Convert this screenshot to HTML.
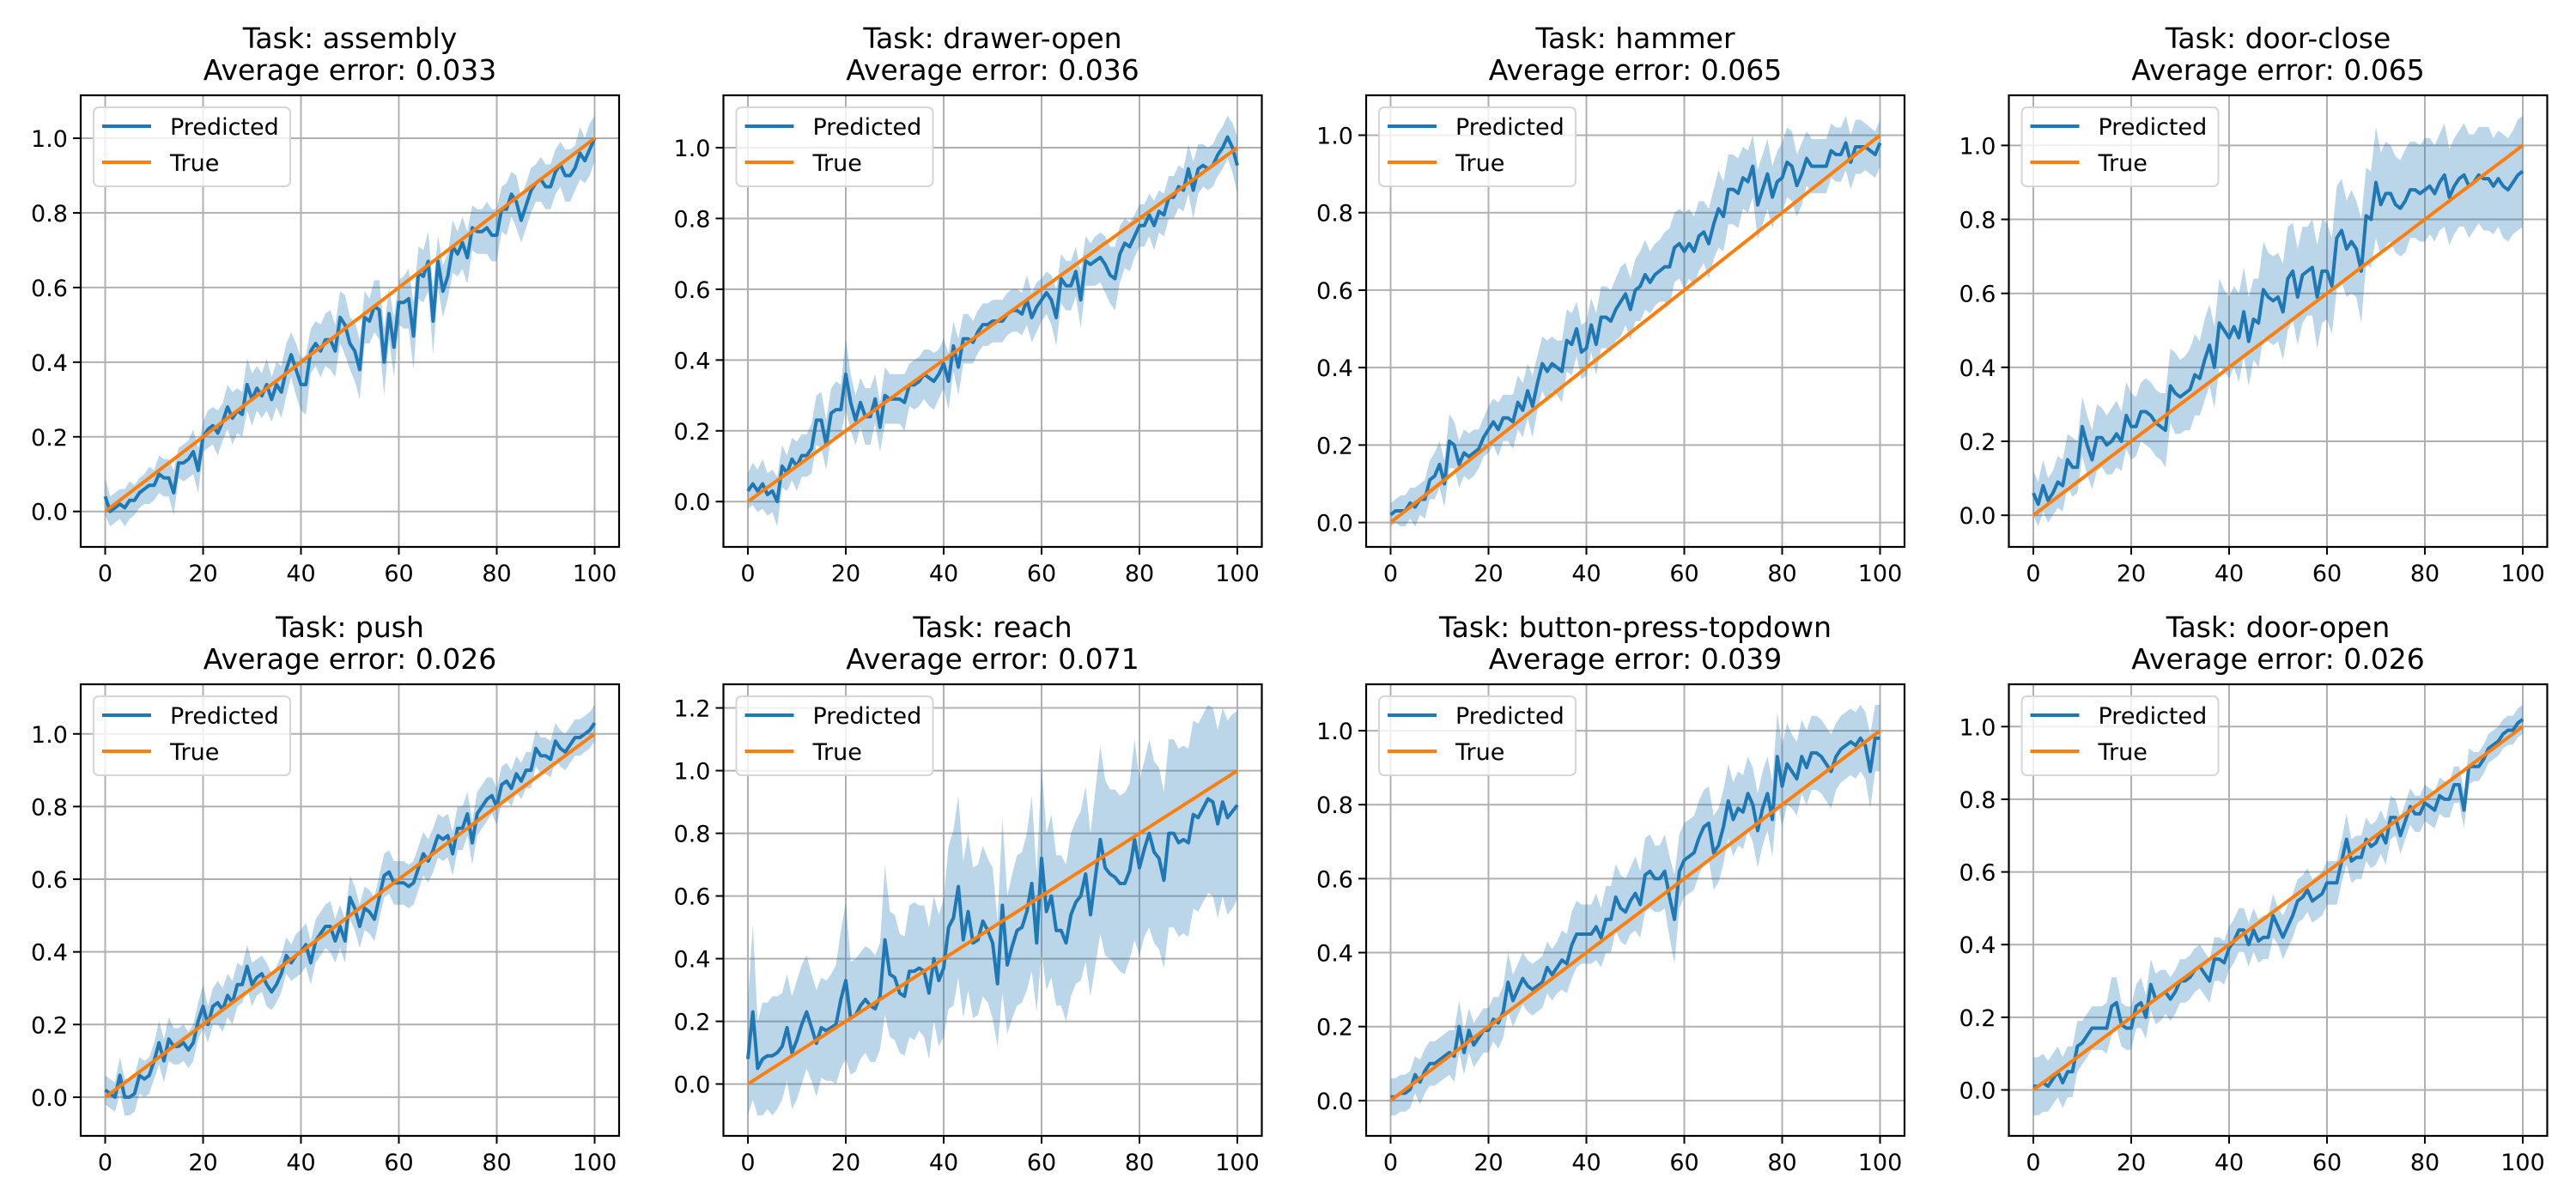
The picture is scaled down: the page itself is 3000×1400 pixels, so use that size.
<!DOCTYPE html>
<html><head><meta charset="utf-8"><title>Task predictions</title>
<style>
html,body{margin:0;padding:0;background:#fff;}
svg{display:block;font-family:"DejaVu Sans","Liberation Sans",sans-serif;}
</style></head>
<body>
<svg id="fig" width="3000" height="1400" viewBox="0 0 3000 1400" xmlns="http://www.w3.org/2000/svg"></svg>
<script>
// ---- data ----
const taskNames = ["assembly","drawer-open","hammer","door-close","push","reach","button-press-topdown","door-open"];
const avgErrors = ["0.033","0.036","0.065","0.065","0.026","0.071","0.039","0.026"];
const xTicks = [0,20,40,60,80,100];

const predAssembly = [.04,.00,.01,.02,.01,.03,.03,.05,.06,.07,.07,.10,.09,.09,.05,.13,.13,.14,.16,.11,.20,.22,.23,.21,.24,.28,.25,.27,.26,.34,.30,.33,.31,.34,.30,.34,.32,.38,.42,.38,.34,.34,.43,.45,.43,.46,.46,.43,.52,.50,.45,.43,.38,.52,.51,.55,.54,.40,.53,.44,.56,.56,.57,.47,.64,.63,.67,.51,.67,.59,.63,.71,.69,.72,.68,.76,.75,.75,.76,.74,.74,.81,.81,.85,.83,.78,.82,.86,.88,.89,.87,.87,.91,.93,.90,.90,.92,.96,.94,.97,1.00];
const stdAssembly = [.05,.04,.04,.04,.05,.05,.04,.04,.04,.05,.04,.05,.05,.05,.06,.04,.05,.05,.06,.06,.04,.05,.05,.06,.05,.06,.07,.06,.06,.07,.07,.06,.06,.07,.06,.06,.07,.07,.06,.07,.07,.08,.06,.06,.07,.07,.08,.07,.07,.08,.07,.08,.08,.07,.06,.07,.08,.09,.07,.08,.06,.07,.08,.09,.07,.07,.08,.09,.07,.07,.06,.07,.06,.07,.07,.06,.06,.06,.07,.07,.07,.06,.07,.06,.07,.06,.06,.06,.05,.06,.06,.06,.06,.06,.07,.07,.06,.07,.06,.07,.06];

const predDrawer = [.03,.05,.03,.05,.02,.03,.00,.10,.08,.12,.10,.13,.13,.15,.23,.23,.16,.25,.26,.26,.36,.28,.23,.28,.24,.24,.29,.21,.30,.29,.29,.29,.28,.33,.33,.34,.36,.35,.34,.36,.39,.34,.44,.38,.46,.46,.45,.48,.50,.50,.51,.51,.51,.53,.54,.54,.53,.57,.52,.55,.57,.59,.57,.52,.63,.61,.61,.65,.57,.68,.67,.68,.69,.67,.64,.63,.70,.73,.72,.75,.78,.78,.81,.78,.82,.81,.86,.86,.89,.88,.94,.88,.94,.95,.94,.95,.98,1.00,1.03,1.00,.95];
const stdDrawer = [.05,.06,.06,.07,.06,.06,.07,.06,.05,.06,.07,.06,.06,.07,.07,.08,.07,.07,.08,.07,.10,.08,.07,.07,.08,.08,.07,.07,.08,.07,.07,.07,.08,.06,.07,.07,.07,.08,.08,.07,.07,.08,.07,.08,.07,.07,.06,.06,.06,.06,.06,.06,.06,.06,.06,.06,.06,.07,.07,.07,.06,.06,.07,.08,.07,.07,.07,.07,.08,.07,.06,.07,.07,.08,.08,.09,.08,.07,.07,.06,.06,.06,.06,.07,.06,.06,.06,.06,.06,.06,.07,.08,.07,.06,.06,.06,.06,.06,.06,.07,.08];

const predHammer = [.02,.03,.03,.03,.05,.04,.06,.06,.11,.12,.15,.10,.21,.20,.15,.18,.17,.18,.19,.22,.24,.26,.24,.27,.27,.26,.31,.29,.34,.30,.36,.41,.39,.41,.40,.39,.47,.46,.50,.44,.45,.51,.46,.53,.53,.52,.55,.57,.59,.55,.60,.61,.64,.62,.64,.65,.66,.66,.71,.72,.70,.72,.70,.74,.75,.72,.77,.81,.79,.86,.86,.85,.89,.88,.92,.82,.86,.90,.84,.88,.89,.93,.92,.87,.90,.94,.92,.92,.92,.92,.96,.95,.95,.98,.93,.97,.97,.97,.96,.95,.98];
const stdHammer = [.03,.03,.04,.04,.04,.05,.04,.05,.05,.06,.06,.06,.07,.06,.06,.06,.06,.06,.05,.05,.06,.06,.07,.06,.06,.07,.07,.07,.07,.08,.07,.07,.08,.07,.07,.08,.08,.08,.07,.07,.07,.07,.08,.08,.08,.08,.08,.09,.08,.08,.08,.09,.09,.08,.08,.08,.09,.10,.09,.09,.10,.09,.09,.09,.08,.09,.09,.10,.09,.09,.09,.09,.08,.08,.08,.09,.09,.09,.08,.08,.09,.09,.09,.08,.08,.07,.07,.07,.07,.07,.07,.07,.07,.07,.07,.07,.07,.06,.06,.06,.06];

const predDoorClose = [.06,.03,.08,.04,.06,.09,.08,.15,.13,.13,.24,.19,.15,.21,.21,.19,.20,.22,.20,.27,.24,.24,.28,.28,.27,.25,.24,.23,.35,.33,.32,.33,.34,.38,.37,.42,.46,.40,.52,.50,.48,.51,.48,.55,.47,.53,.52,.61,.59,.58,.59,.55,.64,.66,.59,.65,.66,.67,.59,.66,.66,.62,.75,.77,.72,.74,.72,.66,.81,.80,.90,.84,.87,.87,.84,.83,.85,.88,.88,.87,.88,.89,.87,.90,.92,.86,.89,.91,.92,.89,.90,.92,.91,.91,.89,.91,.89,.88,.90,.92,.93];
const stdDoorClose = [.06,.06,.07,.06,.06,.07,.07,.07,.08,.07,.08,.08,.08,.09,.08,.08,.09,.09,.08,.09,.09,.08,.08,.09,.09,.09,.09,.10,.10,.11,.10,.10,.11,.11,.10,.11,.11,.11,.12,.11,.11,.11,.12,.12,.12,.11,.12,.13,.12,.12,.12,.13,.14,.13,.13,.13,.12,.13,.14,.14,.13,.13,.14,.14,.13,.14,.13,.14,.13,.13,.15,.14,.14,.13,.13,.13,.14,.13,.13,.13,.14,.13,.13,.13,.14,.13,.13,.13,.14,.14,.13,.13,.14,.14,.13,.13,.14,.14,.14,.15,.15];

const predPush = [.02,.01,.00,.06,.00,.00,.01,.06,.05,.06,.10,.15,.10,.16,.14,.14,.15,.13,.15,.21,.25,.20,.25,.26,.24,.28,.26,.31,.31,.36,.31,.33,.34,.31,.29,.31,.34,.39,.37,.39,.40,.42,.37,.43,.45,.47,.47,.43,.47,.43,.55,.52,.47,.52,.51,.49,.55,.61,.62,.59,.59,.59,.58,.59,.63,.67,.65,.68,.72,.71,.72,.67,.74,.74,.78,.70,.78,.80,.82,.83,.80,.86,.87,.85,.89,.87,.90,.90,.96,.94,.94,.93,.98,.96,.95,.97,.99,.99,1.00,1.01,1.03];
const stdPush = [.04,.04,.04,.05,.05,.05,.05,.05,.05,.05,.05,.06,.06,.06,.05,.05,.05,.05,.05,.05,.06,.05,.05,.06,.06,.06,.06,.06,.05,.06,.06,.05,.05,.06,.05,.05,.05,.05,.05,.06,.06,.06,.06,.06,.06,.06,.07,.06,.06,.06,.06,.06,.06,.06,.06,.06,.06,.06,.06,.06,.06,.06,.06,.06,.06,.06,.06,.06,.06,.06,.06,.06,.06,.06,.06,.06,.06,.06,.06,.05,.05,.05,.05,.05,.05,.05,.05,.05,.05,.05,.05,.05,.05,.05,.05,.05,.05,.05,.05,.05,.05];

const predReach = [.08,.23,.05,.08,.09,.09,.10,.12,.18,.10,.14,.19,.23,.18,.13,.18,.17,.18,.19,.27,.33,.21,.22,.25,.27,.25,.24,.28,.46,.35,.34,.29,.28,.36,.36,.37,.36,.29,.40,.33,.37,.50,.53,.63,.46,.55,.45,.46,.52,.49,.45,.32,.57,.38,.44,.49,.50,.55,.64,.45,.72,.55,.60,.49,.49,.45,.54,.58,.60,.67,.54,.66,.78,.69,.67,.66,.64,.64,.68,.78,.69,.75,.80,.74,.72,.65,.80,.80,.77,.78,.77,.86,.85,.88,.91,.90,.83,.90,.85,.87,.89];
const stdReach = [.18,.28,.15,.18,.17,.19,.18,.17,.17,.18,.19,.19,.18,.17,.17,.16,.16,.17,.19,.22,.25,.18,.18,.17,.17,.18,.17,.17,.24,.20,.20,.19,.19,.21,.22,.20,.21,.21,.20,.21,.22,.26,.28,.29,.25,.25,.24,.24,.24,.23,.24,.20,.28,.22,.23,.24,.24,.25,.28,.22,.30,.25,.26,.24,.24,.25,.26,.26,.27,.28,.26,.28,.30,.28,.27,.28,.28,.29,.28,.32,.28,.28,.30,.29,.29,.28,.30,.30,.30,.30,.30,.30,.30,.30,.30,.30,.30,.30,.31,.31,.30];

const predButton = [.01,.01,.02,.02,.03,.07,.05,.08,.10,.10,.11,.12,.13,.12,.20,.13,.19,.15,.17,.19,.19,.22,.21,.24,.32,.27,.30,.33,.31,.30,.31,.32,.36,.34,.36,.38,.37,.42,.45,.45,.45,.45,.47,.44,.49,.49,.55,.52,.51,.54,.56,.53,.61,.62,.60,.60,.62,.55,.49,.62,.65,.66,.67,.71,.74,.75,.67,.69,.74,.81,.76,.79,.78,.83,.80,.73,.79,.83,.76,.93,.85,.91,.89,.87,.93,.90,.94,.94,.93,.91,.89,.93,.95,.96,.97,.96,.98,.96,.89,.98,.98];
const stdButton = [.05,.05,.05,.05,.05,.05,.06,.06,.06,.06,.06,.06,.06,.07,.07,.06,.06,.06,.06,.06,.06,.06,.07,.07,.08,.07,.07,.07,.07,.07,.07,.07,.07,.07,.07,.08,.08,.09,.09,.08,.08,.08,.09,.08,.09,.09,.09,.09,.09,.09,.10,.09,.10,.10,.09,.09,.10,.11,.12,.10,.10,.10,.10,.10,.10,.10,.10,.10,.10,.10,.10,.10,.10,.10,.10,.10,.10,.10,.10,.12,.11,.11,.10,.10,.10,.10,.10,.10,.10,.10,.10,.09,.09,.09,.09,.09,.09,.09,.10,.09,.09];

const predDoorOpen = [.01,.01,.02,.01,.03,.05,.02,.05,.05,.12,.13,.15,.17,.17,.17,.17,.23,.24,.18,.17,.17,.23,.24,.20,.29,.25,.26,.27,.25,.27,.30,.30,.31,.33,.34,.32,.30,.36,.36,.35,.39,.41,.44,.44,.40,.44,.41,.42,.42,.48,.45,.42,.45,.48,.52,.53,.55,.52,.53,.54,.57,.57,.57,.63,.69,.63,.64,.64,.69,.67,.68,.71,.68,.75,.75,.70,.74,.78,.76,.76,.79,.78,.77,.81,.80,.80,.84,.84,.77,.89,.89,.89,.91,.94,.95,.96,.98,.99,.99,1.01,1.02];
const stdDoorOpen = [.08,.08,.08,.07,.07,.07,.07,.07,.07,.07,.06,.06,.06,.06,.06,.07,.08,.07,.06,.06,.06,.06,.07,.06,.07,.07,.07,.06,.06,.06,.06,.06,.06,.06,.06,.06,.06,.06,.06,.06,.06,.06,.06,.06,.06,.06,.06,.06,.06,.06,.05,.06,.06,.06,.06,.06,.06,.06,.06,.06,.06,.06,.06,.06,.07,.06,.06,.06,.06,.06,.06,.06,.06,.06,.05,.05,.05,.05,.05,.05,.05,.05,.05,.05,.05,.05,.05,.05,.05,.05,.04,.04,.04,.04,.04,.04,.04,.04,.04,.04,.04];

const predSeries = [predAssembly,predDrawer,predHammer,predDoorClose,predPush,predReach,predButton,predDoorOpen];
const stdSeries = [stdAssembly,stdDrawer,stdHammer,stdDoorClose,stdPush,stdReach,stdButton,stdDoorOpen];

// ---- layout ----
const NS = "http://www.w3.org/2000/svg";
const svg = document.getElementById('fig');
const colLeft = [94, 842.5, 1591, 2339.5];
const rowTop = [111, 797];
const AW = 627, AH = 526;

function mk(tag, attrs, parent){
  const e = document.createElementNS(NS, tag);
  for (const k in attrs) e.setAttribute(k, attrs[k]);
  (parent||svg).appendChild(e);
  return e;
}
function fmt(v){ const s = Math.abs(v).toFixed(1); return (v < -1e-9 ? "\u2212" : "") + s; }

predSeries.forEach((pred, p) => {
  const std = stdSeries[p];
  const n = pred.length;
  const L = colLeft[p % 4], T = rowTop[Math.floor(p / 4)];
  const R = L + AW, B = T + AH;
  const lo = [], hi = [];
  for (let i = 0; i < n; i++) { const s = std[Math.min(i, std.length - 1)]; lo.push(pred[i] - s); hi.push(pred[i] + s); }
  const truth = []; for (let i = 0; i < n; i++) truth.push(i / (n - 1));
  let dmin = Math.min(...lo, ...truth, ...pred), dmax = Math.max(...hi, ...truth, ...pred);
  const pad = (dmax - dmin) * 0.05; const ymin = dmin - pad, ymax = dmax + pad;
  const xmin = -0.05 * (n - 1), xmax = (n - 1) * 1.05;
  const sx = v => L + (v - xmin) / (xmax - xmin) * AW;
  const sy = v => B - (v - ymin) / (ymax - ymin) * AH;

  const g = mk('g', {});
  
  

  // title
  const t1 = mk('text', {x: L + AW/2, y: T - 55, 'text-anchor': 'middle', 'font-size': 33, fill: '#000'}, g);
  t1.textContent = 'Task: ' + taskNames[p];
  
  
  const t2 = mk('text', {x: L + AW/2, y: T - 18, 'text-anchor': 'middle', 'font-size': 33, fill: '#000'}, g);
  t2.textContent = 'Average error: ' + avgErrors[p];
  
  

  const clip = mk('clipPath', {id: 'c' + p}, g);
  mk('rect', {x: L, y: T, width: AW, height: AH}, clip);
  const inner = mk('g', {'clip-path': 'url(#c' + p + ')'}, g);

  // grid + ticks
  const yTicks = [];
  for (let v = Math.ceil(ymin / 0.2 - 1e-9) * 0.2; v <= ymax + 1e-9; v += 0.2) yTicks.push(Math.round(v * 10) / 10);
  xTicks.forEach(v => {
    const x = sx(v);
    const gl = mk('line', {x1: x, x2: x, y1: T, y2: B, stroke: '#b0b0b0', 'stroke-width': 2}, inner);
    
    
    mk('line', {x1: x, x2: x, y1: B, y2: B + 9, stroke: '#000', 'stroke-width': 2}, g);
    const tl = mk('text', {x: x, y: B + 40, 'text-anchor': 'middle', 'font-size': 27}, g);
    tl.textContent = v;
    
    
  });
  yTicks.forEach(v => {
    const y = sy(v);
    const gl = mk('line', {x1: L, x2: R, y1: y, y2: y, stroke: '#b0b0b0', 'stroke-width': 2}, inner);
    
    
    mk('line', {x1: L - 9, x2: L, y1: y, y2: y, stroke: '#000', 'stroke-width': 2}, g);
    const tl = mk('text', {x: L - 15, y: y + 10, 'text-anchor': 'end', 'font-size': 27}, g);
    tl.textContent = fmt(v);
    
    
  });

  // band
  let d = '';
  for (let i = 0; i < n; i++) d += (i ? 'L' : 'M') + sx(i).toFixed(1) + ',' + sy(hi[i]).toFixed(1);
  for (let i = n - 1; i >= 0; i--) d += 'L' + sx(i).toFixed(1) + ',' + sy(lo[i]).toFixed(1);
  const band = mk('path', {d: d + 'Z', fill: '#1f77b4', 'fill-opacity': 0.3, stroke: 'none'}, inner);
  
  

  // predicted line
  const pp = pred.map((v, i) => sx(i).toFixed(1) + ',' + sy(v).toFixed(1)).join(' ');
  const pl = mk('polyline', {points: pp, fill: 'none', stroke: '#1f77b4', 'stroke-width': 4, 'stroke-linejoin': 'round'}, inner);
  
  

  // true line
  const tp = truth.map((v, i) => sx(i).toFixed(1) + ',' + sy(v).toFixed(1)).join(' ');
  const tl2 = mk('polyline', {points: tp, fill: 'none', stroke: '#ff7f0e', 'stroke-width': 4}, inner);
  
  

  // frame
  const fr = mk('rect', {x: L, y: T, width: AW, height: AH, fill: 'none', stroke: '#000', 'stroke-width': 2.2}, g);
  
  

  // legend
  const lg = mk('g', {}, g);
  
  
  const lx = L + 15, ly = T + 14;
  mk('rect', {x: lx, y: ly, width: 229, height: 92, rx: 6, fill: '#fff', 'fill-opacity': 0.8, stroke: '#d6d6d6', 'stroke-width': 2}, lg);
  const e1 = mk('line', {x1: lx + 10, x2: lx + 67, y1: ly + 22, y2: ly + 22, stroke: '#1f77b4', 'stroke-width': 4}, lg);
  
  
  const e1t = mk('text', {x: lx + 89, y: ly + 32, 'font-size': 27}, lg);
  e1t.textContent = 'Predicted';
  
  
  const e2 = mk('line', {x1: lx + 10, x2: lx + 67, y1: ly + 64, y2: ly + 64, stroke: '#ff7f0e', 'stroke-width': 4}, lg);
  
  
  const e2t = mk('text', {x: lx + 89, y: ly + 74, 'font-size': 27}, lg);
  e2t.textContent = 'True';
  
  
});
</script>
</body></html>
